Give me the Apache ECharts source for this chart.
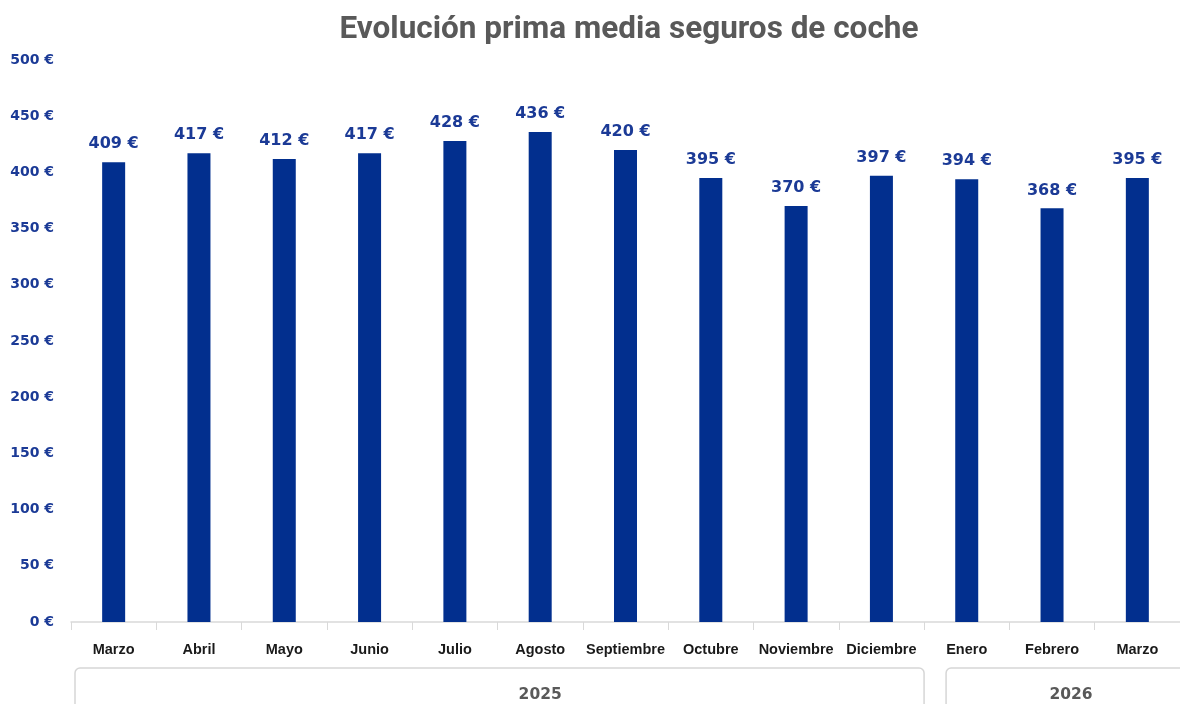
<!DOCTYPE html>
<html>
<head>
<meta charset="utf-8">
<script src="https://cdn.jsdelivr.net/npm/echarts@6/dist/echarts.min.js"></script>
<style>
html,body{margin:0;padding:0;background:#fff;}
#c{width:1180px;height:704px;}
</style>
</head>
<body>
<div id="c"></div>
<script>
const titleText = 'Evolución prima media seguros de coche';
const months = ['Marzo','Abril','Mayo','Junio','Julio','Agosto','Septiembre','Octubre','Noviembre','Diciembre','Enero','Febrero','Marzo'];
const values = [409, 417, 412, 417, 428, 436, 420, 395, 370, 397, 394, 368, 395];
const yearLabels = ['2025', '2026'];
const yearSpans = [[0, 9], [10, 12]];
const yTicks = [0, 50, 100, 150, 200, 250, 300, 350, 400, 450, 500];

const BLUE = '#022F8E';
const LABEL_BLUE = '#1B3A96';
const NUM_FONT = '"DejaVu Sans"';
const CAT_FONT = '"Liberation Sans", Arial';
const TITLE_FONT = '"Liberation Sans Narrow", "Roboto"';
const chart = echarts.init(document.getElementById('c'), null, {renderer: 'canvas'});

const option = {
  animation: false,
  backgroundColor: '#fff',
  title: {
    text: titleText,
    left: 624, textAlign: 'center', top: 9,
    textStyle: {fontFamily: TITLE_FONT, fontWeight: 'bold', fontSize: 31.5, color: '#595959'}
  },
  grid: {left: 71, top: 60, width: 1114, height: 562, containLabel: false},
  xAxis: {
    type: 'category',
    data: months.map((m, i) => ({value: i + ':' + m})),
    axisLine: {show: true, lineStyle: {color: '#d9d9d9', width: 1.5}},
    axisTick: {show: true, length: 8, lineStyle: {color: '#d9d9d9'}, alignWithLabel: false},
    axisLabel: {
      interval: 0, margin: 20,
      formatter: v => v.split(':')[1],
      fontFamily: CAT_FONT, fontWeight: 'bold', fontSize: 14.5, color: '#1a1a1a'
    }
  },
  yAxis: {
    type: 'value', min: yTicks[0], max: yTicks[yTicks.length - 1], interval: 50,
    splitLine: {show: false},
    axisLine: {show: false}, axisTick: {show: false},
    axisLabel: {
      margin: 17, formatter: v => v + ' €',
      fontFamily: NUM_FONT, fontWeight: 'bold', fontSize: 14, color: LABEL_BLUE
    }
  },
  series: [{
    type: 'bar',
    data: values,
    barWidth: 23,
    itemStyle: {color: BLUE},
    label: {
      show: true, position: 'top', distance: 10,
      formatter: p => p.value + ' €',
      fontFamily: NUM_FONT, fontWeight: 'bold', fontSize: 16, color: LABEL_BLUE
    }
  }]
};
chart.setOption(option);

// Year brackets below the category axis
const p0 = chart.convertToPixel({xAxisIndex: 0}, 0);
const p1 = chart.convertToPixel({xAxisIndex: 0}, 1);
const band = p1 - p0;
const axisY = chart.convertToPixel({yAxisIndex: 0}, 0);
const graphics = [];
yearSpans.forEach((s, k) => {
  const xl = chart.convertToPixel({xAxisIndex: 0}, s[0]) - band / 2;
  const xr = chart.convertToPixel({xAxisIndex: 0}, s[1]) + band / 2;
  const left = k === 0 ? xl + 4 : xl + 22;
  const right = k === 0 ? xr : xr + 20;
  graphics.push({
    type: 'rect',
    shape: {x: left, y: axisY + 46, width: right - left, height: 80, r: [5, 5, 0, 0]},
    style: {fill: 'none', stroke: '#d6d6d6', lineWidth: 1.5},
    silent: true
  });
  const cx = k === 0 ? chart.convertToPixel({xAxisIndex: 0}, 5) : (left + right) / 2 - 2;
  graphics.push({
    type: 'text',
    x: cx, y: axisY + 73,
    style: {text: yearLabels[k], align: 'center', verticalAlign: 'middle',
      fontFamily: NUM_FONT, fontWeight: 'bold', fontSize: 15.5, fill: '#595959'},
    silent: true
  });
});
chart.setOption({graphic: graphics});
</script>
</body>
</html>
